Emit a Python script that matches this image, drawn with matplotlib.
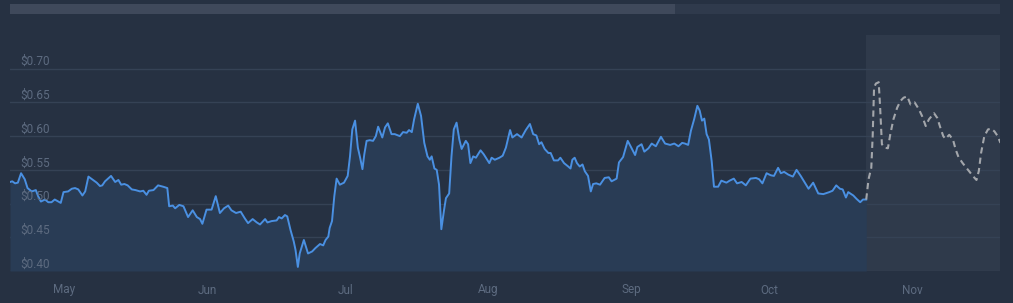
import matplotlib.pyplot as plt
from matplotlib.patches import Rectangle

# days counted from May 1
hist_days = [-11.7, -11.2, -10.6, -10.0, -9.3, -8.5, -7.9, -7.0, -6.1, -5.6, -5.0, -4.1, -3.4, -2.7, -2.0, -1.2,
             -0.7, -0.1, 0.9, 1.7, 2.4, 3.1, 4.0, 4.6, 5.3, 6.1, 7.1, 7.8, 8.3, 8.9, 10.2, 11.1, 11.8, 12.4,
             13.1, 13.8, 14.7, 15.5, 16.5, 17.2, 17.9, 18.4, 19.4, 20.4, 21.5, 22.4, 22.8, 23.6, 24.1, 25.0,
             25.9, 26.9, 27.9, 28.8, 29.5, 30.0, 30.9, 32.0, 32.9, 33.8, 34.7, 35.6, 36.3, 37.3, 38.3, 39.2,
             39.9, 40.9, 41.8, 42.5, 43.6, 44.1, 45.0, 46.1, 46.6, 47.2, 47.9, 48.4, 49.1, 49.8, 50.2, 50.7,
             51.1, 52.0, 52.9, 53.8, 54.5, 55.5, 56.2, 56.7, 57.3, 57.6, 58.1, 58.6, 59.1, 59.8, 60.7, 61.5,
             62.0, 62.5, 63.1, 63.7, 64.2, 64.7, 65.1, 65.6, 66.3, 67.0, 67.6, 68.1, 69.0, 69.6, 70.2, 71.0,
             71.7, 72.8, 73.5, 74.3, 74.8, 75.4, 75.9, 76.7, 77.4, 78.1, 78.8, 79.3, 79.7, 80.3, 80.8, 81.3,
             81.8, 82.4, 82.8, 83.5, 84.0, 84.5, 85.1, 85.7, 86.2, 87.1, 87.6, 88.1, 88.7, 89.3, 90.3, 91.0,
             92.2, 92.7, 93.4, 94.4, 95.1, 95.8, 96.7, 97.2, 98.2, 99.2, 100.1, 101.0, 101.7, 102.4, 103.0,
             103.5, 104.2, 105.0, 105.5, 106.2, 107.1, 107.6, 108.4, 109.3, 109.8, 110.2, 110.7, 111.2, 111.8,
             112.4, 112.9, 113.6, 114.2, 114.7, 115.4, 116.2, 117.2, 118.1, 118.7, 119.8, 120.3, 121.2, 122.2,
             122.9, 123.8, 124.3, 125.2, 125.8, 126.7, 127.4, 128.3, 129.4, 130.3, 131.4, 132.3, 133.2, 134.0,
             134.6, 135.3, 135.9, 136.6, 137.3, 137.8, 138.3, 138.8, 139.3, 139.8, 140.4, 140.9, 141.8, 142.5,
             143.6, 144.3, 145.2, 145.9, 146.9, 147.8, 148.8, 150.0, 150.7, 151.4, 152.3, 153.2, 153.9, 154.8,
             155.4, 156.1, 157.0, 158.0, 158.8, 159.7, 160.6, 161.4, 162.4, 163.5, 164.6, 165.9, 166.6, 167.4,
             168.2, 168.8, 169.5, 170.0, 171.1, 171.8, 172.6, 173.2, 173.9]
hist_price = [0.532, 0.533, 0.530, 0.531, 0.545, 0.536, 0.523, 0.518, 0.520, 0.511, 0.503, 0.506, 0.502, 0.502,
              0.506, 0.503, 0.501, 0.517, 0.518, 0.522, 0.523, 0.521, 0.512, 0.518, 0.540, 0.536, 0.531, 0.526,
              0.527, 0.533, 0.541, 0.532, 0.535, 0.528, 0.529, 0.527, 0.521, 0.520, 0.518, 0.519, 0.513, 0.519,
              0.520, 0.527, 0.525, 0.523, 0.496, 0.497, 0.493, 0.498, 0.496, 0.480, 0.490, 0.480, 0.477, 0.470,
              0.491, 0.491, 0.511, 0.486, 0.493, 0.497, 0.490, 0.486, 0.488, 0.478, 0.471, 0.477, 0.472, 0.469,
              0.477, 0.472, 0.474, 0.475, 0.480, 0.478, 0.483, 0.481, 0.461, 0.444, 0.431, 0.406, 0.426, 0.446,
              0.426, 0.429, 0.434, 0.440, 0.438, 0.446, 0.451, 0.464, 0.474, 0.511, 0.537, 0.528, 0.531, 0.541,
              0.570, 0.610, 0.623, 0.583, 0.568, 0.551, 0.573, 0.593, 0.594, 0.593, 0.600, 0.614, 0.598, 0.613,
              0.619, 0.603, 0.603, 0.600, 0.606, 0.605, 0.609, 0.606, 0.625, 0.648, 0.630, 0.590, 0.570, 0.565,
              0.570, 0.552, 0.550, 0.528, 0.462, 0.491, 0.508, 0.515, 0.570, 0.610, 0.620, 0.595, 0.581, 0.593,
              0.588, 0.560, 0.570, 0.568, 0.579, 0.573, 0.560, 0.568, 0.565, 0.568, 0.571, 0.583, 0.609, 0.598,
              0.603, 0.598, 0.609, 0.618, 0.603, 0.601, 0.588, 0.591, 0.581, 0.575, 0.575, 0.564, 0.564, 0.568,
              0.560, 0.555, 0.552, 0.565, 0.568, 0.560, 0.555, 0.558, 0.548, 0.541, 0.518, 0.529, 0.530, 0.528,
              0.538, 0.539, 0.533, 0.537, 0.561, 0.569, 0.593, 0.584, 0.572, 0.584, 0.588, 0.577, 0.582, 0.589,
              0.585, 0.599, 0.589, 0.587, 0.589, 0.585, 0.590, 0.589, 0.587, 0.608, 0.625, 0.645, 0.638, 0.623,
              0.626, 0.603, 0.595, 0.563, 0.525, 0.525, 0.534, 0.531, 0.534, 0.537, 0.530, 0.532, 0.527, 0.537,
              0.538, 0.536, 0.530, 0.545, 0.542, 0.541, 0.553, 0.545, 0.547, 0.543, 0.540, 0.550, 0.541, 0.531,
              0.522, 0.531, 0.515, 0.514, 0.517, 0.519, 0.527, 0.522, 0.521, 0.509, 0.517, 0.512, 0.507, 0.502,
              0.506, 0.506]

fc_days = [173.9, 174.4, 175.0, 175.3, 175.6, 176.0, 176.6, 176.9, 177.3, 177.9, 178.6, 179.1, 179.8, 180.6,
           181.3, 182.0, 182.8, 183.5, 184.4, 185.3, 186.0, 186.8, 187.5, 188.6, 189.3, 190.0, 190.6, 191.1,
           191.9, 192.7, 193.3, 193.9, 194.8, 195.5, 196.2, 197.0, 197.8, 198.3, 198.8, 199.5, 200.3, 201.0,
           201.7, 202.4, 203.0]
fc_price = [0.506, 0.536, 0.553, 0.600, 0.672, 0.678, 0.680, 0.645, 0.588, 0.583, 0.582, 0.602, 0.625, 0.642,
            0.652, 0.657, 0.659, 0.647, 0.650, 0.640, 0.630, 0.615, 0.625, 0.634, 0.627, 0.612, 0.600, 0.596,
            0.602, 0.595, 0.580, 0.569, 0.560, 0.554, 0.548, 0.541, 0.535, 0.548, 0.575, 0.600, 0.610, 0.611,
            0.607, 0.600, 0.590]

month_days = [0, 31, 61, 92, 123, 153, 184]
month_labels = ['May', 'Jun', 'Jul', 'Aug', 'Sep', 'Oct', 'Nov']
price_ticks = [0.40, 0.45, 0.50, 0.55, 0.60, 0.65, 0.70]

bg = '#263142'
txt = '#5d6b80'

fig = plt.figure(figsize=(10.13, 3.03), dpi=100, facecolor=bg)
ax = fig.add_axes([10 / 1013, 32 / 303, 990 / 1013, 236 / 303])
ax.set_facecolor(bg)

x0, x1 = -11.7, 202.9
ax.set_xlim(x0, x1)
ax.set_ylim(0.40, 0.75)

# forecast area
ax.axvspan(fc_days[0], x1, color='#2f3a4b', lw=0, zorder=0)

for p in price_ticks:
    ax.axhline(p, color='#354255', lw=1, zorder=1)
    ax.annotate('$' + format(p, '.2f'), xy=(0.01, p), xycoords=('axes fraction', 'data'),
                xytext=(0, 2.5), textcoords='offset points', color=txt, fontsize=8.5,
                family='Roboto', va='baseline', ha='left', zorder=5)

ax.fill_between(hist_days, hist_price, 0.40, color='#293c55', lw=0, zorder=2)
ax.plot(hist_days, hist_price, color='#4a90e2', lw=1.4, zorder=3)
ax.plot(fc_days, fc_price, color='#a3a6ab', lw=1.5, ls=(0, (3, 2)), zorder=3)

ax.set_xticks(month_days)
ax.set_xticklabels(month_labels, family='Roboto', fontsize=8.5, color=txt)
ax.tick_params(axis='x', length=0, pad=9)
ax.set_yticks([])
for s in ax.spines.values():
    s.set_visible(False)

# scrollbar at the top
fig.patches.append(Rectangle((10 / 1013, 1 - 14 / 303), 990 / 1013, 10 / 303,
                             transform=fig.transFigure, color='#2f3a4c', lw=0))
fig.patches.append(Rectangle((10 / 1013, 1 - 14 / 303), 665 / 1013, 10 / 303,
                             transform=fig.transFigure, color='#3f495b', lw=0))

fig.savefig('out.png', dpi=100, facecolor=bg)
